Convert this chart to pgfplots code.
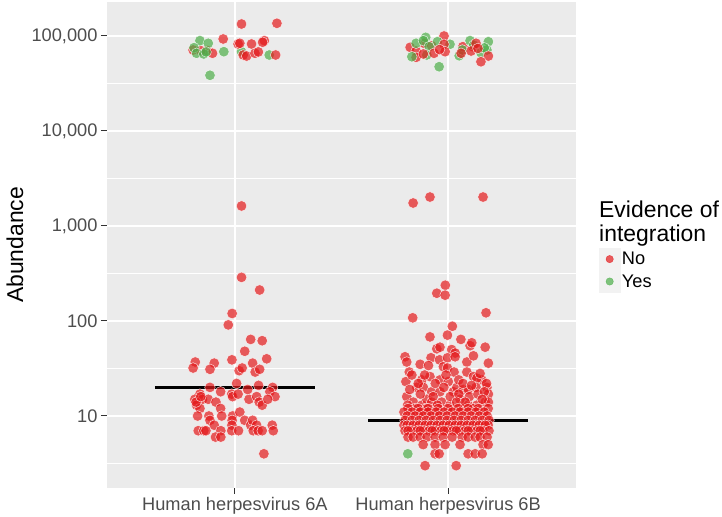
\documentclass[border=0pt]{standalone}
\usepackage{fontspec}
\setmainfont{Liberation Sans}
\usepackage{pgfplots}
\pgfplotsset{compat=1.18}
\definecolor{ggbg}{HTML}{EBEBEB}
\definecolor{ggkey}{HTML}{F2F2F2}
\definecolor{ggred}{HTML}{E41A1C}
\definecolor{gggreen}{HTML}{4DAF4A}
\definecolor{ggtick}{HTML}{333333}
\definecolor{ggtext}{HTML}{4D4D4D}
\pgfplotsset{
  redpts/.style={only marks, mark=*, mark size=5.3bp, forget plot,
    mark options={fill=ggred, draw=white, line width=0.5bp, fill opacity=0.7, draw opacity=0.8}},
  greenpts/.style={only marks, mark=*, mark size=5.3bp, forget plot,
    mark options={fill=gggreen, draw=white, line width=0.5bp, fill opacity=0.7, draw opacity=0.8}},
}
\begin{document}
\begin{tikzpicture}
\useasboundingbox (-107bp,-29bp) rectangle (615bp,488bp);
\begin{axis}[
  at={(0,0)}, anchor=south west, scale only axis, width=469bp, height=486bp,
  xmin=0.4, xmax=2.6, ymode=log, ymin=1.746, ymax=228000,
  axis background/.style={fill=ggbg},
  axis line style={draw=none},
  xtick={1,2}, xticklabels={Human herpesvirus 6A, Human herpesvirus 6B},
  ytick={10,100,1000,10000,100000}, yticklabels={10,100,{1,000},{10,000},{100,000}},
  minor ytick={3.16228,31.6228,316.228,3162.28,31622.8},
  xmajorgrids, ymajorgrids, yminorgrids,
  major grid style={white, line width=1.4bp},
  minor grid style={white, line width=0.7bp},
  tick pos=left, tick align=outside, major tick length=6bp, minor tick length=0pt,
  tick style={ggtick, line width=1bp},
  ticklabel style={font=\fontsize{18.3}{20}\selectfont, text=ggtext},
  legend style={at={(1.049,0.494)}, anchor=north west, draw=none, fill=none,
    inner sep=0pt, outer sep=0pt, font=\fontsize{18.3}{20}\selectfont, row sep=0pt,
    nodes={inner sep=1.5bp}},
  legend cell align=left,
]
\addlegendimage{legend image code/.code={\fill[ggkey] (0bp,-11bp) rectangle (21bp,11bp); \fill[ggred, opacity=0.7] (10.5bp,0bp) circle (3.7bp);}}
\addlegendentry{No}
\addlegendimage{legend image code/.code={\fill[ggkey] (0bp,-11bp) rectangle (21bp,11bp); \fill[gggreen, opacity=0.7] (10.5bp,0bp) circle (3.7bp);}}
\addlegendentry{Yes}

% 6A low (No)
\addplot[redpts] coordinates {
(1.031,1625) (1.031,288) (1.116,212) (0.987,120) (0.969,91) (1.074,64) (1.128,62) (1.046,48)
(0.814,37) (0.804,32) (0.903,36) (0.883,31) (0.986,39) (1.083,36) (1.149,40) (1.020,30)
(1.034,32) (1.095,29) (1.116,31) (1.008,22) (0.883,20) (1.111,21) (1.177,20) (1.164,18)
(1.188,16) (0.836,17) (0.812,15) (0.848,15) (0.875,15) (0.933,18) (0.985,17) (0.989,16)
(1.015,17) (1.066,15) (1.102,16) (1.114,14) (1.128,13) (1.154,15) (0.820,13) (0.836,12)
(0.911,14) (0.933,12) (0.825,10) (0.878,10) (0.883,9) (0.903,8) (0.938,10) (0.989,10)
(0.987,9) (0.986,8) (1.023,11) (1.046,9) (1.074,8) (1.083,9) (1.102,8) (1.175,8)
(0.828,7) (0.854,7) (0.864,7) (0.934,7) (0.985,7) (1.017,7) (1.086,7) (1.109,7)
(1.128,7) (1.180,7) (0.909,6) (0.934,6) (1.136,4) (0.818,14) (0.840,16) (1.060,19)
};
% 6A top (No)
\addplot[redpts] coordinates {
(0.804,71200) (0.870,70400) (0.840,70000) (0.895,65800) (0.945,93000)
};
% 6A top (Yes)
\addplot[greenpts] coordinates {
(0.836,89300) (0.875,83800) (0.808,75300) (0.820,65800) (0.854,64700) (0.948,68400)
(0.883,38600) (1.031,68400) (1.161,63100) (0.865,68000)
};
\addplot[redpts] coordinates {
(1.031,133700) (1.197,136000) (1.015,82400) (1.078,82400) (1.138,89300)
(1.039,63100) (1.055,61500) (1.094,65800) (1.191,63100) (1.023,83800) (1.130,86000) (1.110,68000)
};
% 6B mid (No)
\addplot[redpts] coordinates {
(1.836,1746) (1.915,2018) (2.164,2018)
(1.987,238) (1.947,196) (1.986,187) (1.834,108) (2.178,122) (2.020,88) (1.915,68) (1.997,71)
(2.060,64) (1.947,51) (1.962,53) (2.017,50) (2.033,46) (2.103,55) (2.111,59) (2.174,53)
(1.798,42) (1.806,37) (1.869,35) (1.920,41) (1.960,39) (1.997,41) (1.908,34) (1.978,33)
(1.997,32) (2.088,37) (2.119,43) (2.189,36) (1.818,29) (1.802,23) (1.877,24) (1.915,26)
(1.962,24) (2.001,23) (2.028,29) (2.088,29) (2.119,26) (2.158,24) (2.135,25) (2.033,42)
(1.806,16) (1.837,14) (1.853,20) (1.884,20) (1.923,18) (1.962,18) (2.025,18) (2.041,20)
(2.072,19) (2.095,19) (2.131,20) (2.182,20) (2.189,17) (2.056,15) (2.095,13) (2.135,13)
(2.174,14) (2.189,14) (1.845,12) (1.877,13) (1.900,15) (1.923,14) (1.970,14) (2.009,13)
(2.025,12) (2.064,12) (2.119,12) (2.174,11) (1.822,11) (1.869,11) (1.915,11) (1.962,11)
(1.83,27) (1.86,22) (1.89,27) (1.94,22) (1.99,27) (2.05,24) (2.07,22) (2.11,21) (2.15,28)
(2.18,22) (1.82,19) (1.87,17) (1.93,16) (1.98,20) (2.01,16) (2.05,17) (2.10,16) (2.14,17)
(2.17,18) (1.81,13) (1.90,12) (1.95,13) (2.04,14) (2.08,14) (2.16,15)
};
% 6B low rows (No)
\addplot[redpts] coordinates {
(1.812,12) (1.859,12) (1.906,12) (1.953,12) (2.000,12) (2.047,12) (2.094,12) (2.141,12) (2.188,12)
(1.793,11) (1.831,11) (1.869,11) (1.906,11) (1.944,11) (1.981,11) (2.019,11) (2.056,11) (2.094,11) (2.131,11) (2.169,11)
(1.808,10) (1.845,10) (1.883,10) (1.920,10) (1.958,10) (1.995,10) (2.033,10) (2.070,10) (2.108,10) (2.146,10) (2.183,10)
(1.798,9) (1.831,9) (1.864,9) (1.897,9) (1.930,9) (1.962,9) (1.995,9) (2.028,9) (2.061,9) (2.094,9) (2.127,9) (2.160,9) (2.192,9)
(1.793,8) (1.822,8) (1.850,8) (1.878,8) (1.906,8) (1.934,8) (1.962,8) (1.991,8) (2.019,8) (2.047,8) (2.075,8) (2.103,8) (2.131,8) (2.160,8) (2.188,8)
(1.808,8) (1.836,8) (1.864,8) (1.892,8) (1.920,8) (1.948,8) (1.977,8) (2.005,8) (2.033,8) (2.061,8) (2.089,8) (2.117,8) (2.146,8) (2.174,8)
(1.798,7) (1.826,7) (1.854,7) (1.883,7) (1.911,7) (1.939,7) (1.967,7) (1.995,7) (2.023,7) (2.052,7) (2.080,7) (2.108,7) (2.136,7) (2.164,7) (2.192,7)
(1.812,7) (1.869,7) (1.925,7) (1.981,7) (2.038,7) (2.094,7) (2.150,7)
(1.812,6) (1.836,6) (1.869,6) (1.901,6) (1.939,6) (1.977,6) (2.019,6) (2.066,6) (2.094,6) (2.127,6) (2.150,6) (2.183,6)
(1.883,5) (1.939,5) (1.986,5) (2.056,5) (2.164,5) (2.188,5)
(1.939,4) (1.958,4) (2.094,4) (2.127,4) (2.160,4)
(1.892,3) (2.038,3)
};
\addplot[greenpts] coordinates {(1.811,4)};
% 6B top
\addplot[redpts] coordinates {
(1.981,100000) (1.822,76000) (1.850,69500) (1.887,83800) (1.923,79000) (1.850,59600) (2.116,77200) (2.069,77200)
};
\addplot[greenpts] coordinates {
(1.895,96800) (1.850,83800) (1.884,89300) (1.950,87100) (2.009,81800) (1.911,77200) (1.830,60500)
(1.900,63100) (1.958,47500) (2.052,62000) (2.103,89300) (2.189,87100) (2.154,66700) (2.067,71200)
(2.182,71200) (2.120,80000) (2.170,75000)
};
\addplot[redpts] coordinates {
(1.934,65800) (1.981,81800) (1.986,68400) (1.884,64700) (2.061,65800) (2.108,69500) (2.131,83800)
(2.189,61500) (2.154,53600) (1.960,72000) (2.140,74000)
};
% medians
\addplot[black, line width=2.6bp, forget plot] coordinates {(0.625,20) (1.375,20)};
\addplot[black, line width=2.6bp, forget plot] coordinates {(1.625,9) (2.375,9)};
\end{axis}
\node[rotate=90, font=\fontsize{23}{25}\selectfont] at (-92bp,243bp) {Abundance};
\node[anchor=north west, align=left, font=\fontsize{23}{23.5}\selectfont, inner sep=0pt] at (492bp,287bp) {Evidence of\\integration};
\end{tikzpicture}
\end{document}
